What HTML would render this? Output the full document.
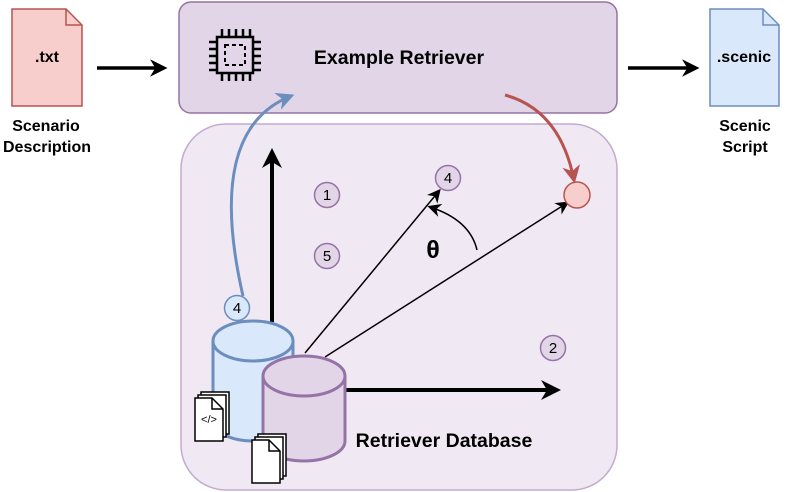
<!DOCTYPE html>
<html><head><style>html,body{margin:0;padding:0;background:#fff}svg{display:block}text{font-family:"Liberation Sans",sans-serif}</style></head>
<body>
<svg width="793" height="492" viewBox="0 0 793 492" xmlns="http://www.w3.org/2000/svg">
<defs>
<marker id="ab" viewBox="0 0 10 10" refX="8" refY="5" markerWidth="5" markerHeight="5" orient="auto"><path d="M0,0 L10,5 L0,10 L3,5 z" fill="#000"/></marker>
<marker id="abs" viewBox="0 0 10 10" refX="8" refY="5" markerWidth="9" markerHeight="9" orient="auto"><path d="M0,0 L10,5 L0,10 L3,5 z" fill="#000"/></marker>
<marker id="ar" viewBox="0 0 10 10" refX="8" refY="5" markerWidth="6" markerHeight="6" orient="auto"><path d="M0,0 L10,5 L0,10 L3,5 z" fill="#b85450"/></marker>
<marker id="abl" viewBox="0 0 10 10" refX="8" refY="5" markerWidth="6" markerHeight="6" orient="auto"><path d="M0,0 L10,5 L0,10 L3,5 z" fill="#6c8ebf"/></marker>
</defs>
<path d="M12,9 H66 L82,25 V106 H12 Z" fill="#f8cecc" stroke="#b85450" stroke-width="1.5"/>
<path d="M66,9 V25 H82" fill="none" stroke="#b85450" stroke-width="1.5"/>
<text x="47" y="62" font-size="16" font-weight="bold" text-anchor="middle">.txt</text>
<text x="46" y="131" font-size="16" font-weight="bold" text-anchor="middle">Scenario</text>
<text x="47" y="152" font-size="16" font-weight="bold" text-anchor="middle">Description</text>
<line x1="97" y1="68" x2="164" y2="68" stroke="#000" stroke-width="3.5" marker-end="url(#ab)"/>
<rect x="179" y="2" width="438" height="111" rx="12" fill="#e1d5e7" stroke="#9673a6" stroke-width="1.5"/>
<text x="399" y="64" font-size="19.5" font-weight="bold" text-anchor="middle">Example Retriever</text>
<g stroke="#000" stroke-width="2.5" fill="none">
<rect x="217" y="37" width="36" height="36"/>
<rect x="225" y="45" width="20" height="20" stroke-dasharray="4,3" stroke-width="2"/>
<path d="M222,29V37 M229,29V37 M236,29V37 M243,29V37 M250,29V37 M222,73V81 M229,73V81 M236,73V81 M243,73V81 M250,73V81 M209,42H217 M209,49H217 M209,56H217 M209,63H217 M209,70H217 M253,42H261 M253,49H261 M253,56H261 M253,63H261 M253,70H261"/>
</g>
<line x1="628" y1="68" x2="696" y2="68" stroke="#000" stroke-width="3.5" marker-end="url(#ab)"/>
<path d="M710,9 H763 L779,25 V106 H710 Z" fill="#dae8fc" stroke="#6c8ebf" stroke-width="1.5"/>
<path d="M763,9 V25 H779" fill="none" stroke="#6c8ebf" stroke-width="1.5"/>
<text x="744" y="62" font-size="16" font-weight="bold" text-anchor="middle">.scenic</text>
<text x="745" y="131" font-size="16" font-weight="bold" text-anchor="middle">Scenic</text>
<text x="745" y="152" font-size="16" font-weight="bold" text-anchor="middle">Script</text>
<rect x="181" y="124" width="436" height="366" rx="45" fill="#f0e9f3" stroke="#c3abd0" stroke-width="1.5"/>
<line x1="272" y1="322" x2="272" y2="152" stroke="#000" stroke-width="4" marker-end="url(#ab)"/>
<line x1="345" y1="390" x2="557" y2="390" stroke="#000" stroke-width="4" marker-end="url(#ab)"/>
<line x1="305" y1="353" x2="439" y2="191" stroke="#000" stroke-width="1.5" marker-end="url(#abs)"/>
<line x1="325" y1="357" x2="567" y2="203" stroke="#000" stroke-width="1.5" marker-end="url(#abs)"/>
<path d="M477,250 Q470,220 430,207" fill="none" stroke="#000" stroke-width="1.5" marker-end="url(#abs)"/>
<text x="433" y="258" font-size="25" font-weight="bold" text-anchor="middle">θ</text>
<g font-size="15" text-anchor="middle">
<circle cx="327" cy="195" r="12.5" fill="#e1d5e7" stroke="#9673a6" stroke-width="1.5"/><text x="327" y="200">1</text>
<circle cx="327" cy="256" r="12.5" fill="#e1d5e7" stroke="#9673a6" stroke-width="1.5"/><text x="327" y="261">5</text>
<circle cx="448" cy="178" r="12.5" fill="#e1d5e7" stroke="#9673a6" stroke-width="1.5"/><text x="448" y="183">4</text>
<circle cx="553" cy="348" r="12.5" fill="#e1d5e7" stroke="#9673a6" stroke-width="1.5"/><text x="553" y="353">2</text>
</g>
<circle cx="577" cy="195" r="13" fill="#f8cecc" stroke="#b85450" stroke-width="1.5"/>
<path d="M505,95 Q560,110 574,180" fill="none" stroke="#b85450" stroke-width="3" marker-end="url(#ar)"/>
<path d="M243,296 Q205,130 291,96" fill="none" stroke="#6c8ebf" stroke-width="3" marker-end="url(#abl)"/>
<circle cx="237" cy="308" r="12.5" fill="#dae8fc" stroke="#6c8ebf" stroke-width="1.5"/>
<text x="237" y="313" font-size="15" text-anchor="middle">4</text>
<path d="M213,341 V421 A40,20 0 0 0 293,421 V341" fill="#dae8fc" stroke="#6c8ebf" stroke-width="3"/>
<ellipse cx="253" cy="341" rx="40" ry="20" fill="#dae8fc" stroke="#6c8ebf" stroke-width="3"/>
<path d="M263,376 V441 A41,20 0 0 0 345,441 V376" fill="#e1d5e7" stroke="#9673a6" stroke-width="3"/>
<ellipse cx="304" cy="376" rx="41" ry="20" fill="#e1d5e7" stroke="#9673a6" stroke-width="3"/>
<g stroke="#000" stroke-width="1.5" fill="#fff">
<rect x="201" y="392" width="28" height="42"/>
<rect x="198" y="395" width="28" height="42"/>
<path d="M195,398 H212 L223,409 V441 H195 Z"/>
<path d="M212,398 V409 H223" fill="none"/>
<rect x="258" y="434" width="28" height="42"/>
<rect x="255" y="437" width="28" height="42"/>
<path d="M252,440 H269 L280,451 V483 H252 Z"/>
<path d="M269,440 V451 H280" fill="none"/>
</g>
<text x="209" y="423" font-size="11" text-anchor="middle">&lt;/&gt;</text>
<text x="444" y="447" font-size="19.5" font-weight="bold" text-anchor="middle">Retriever Database</text>
</svg>
</body></html>
